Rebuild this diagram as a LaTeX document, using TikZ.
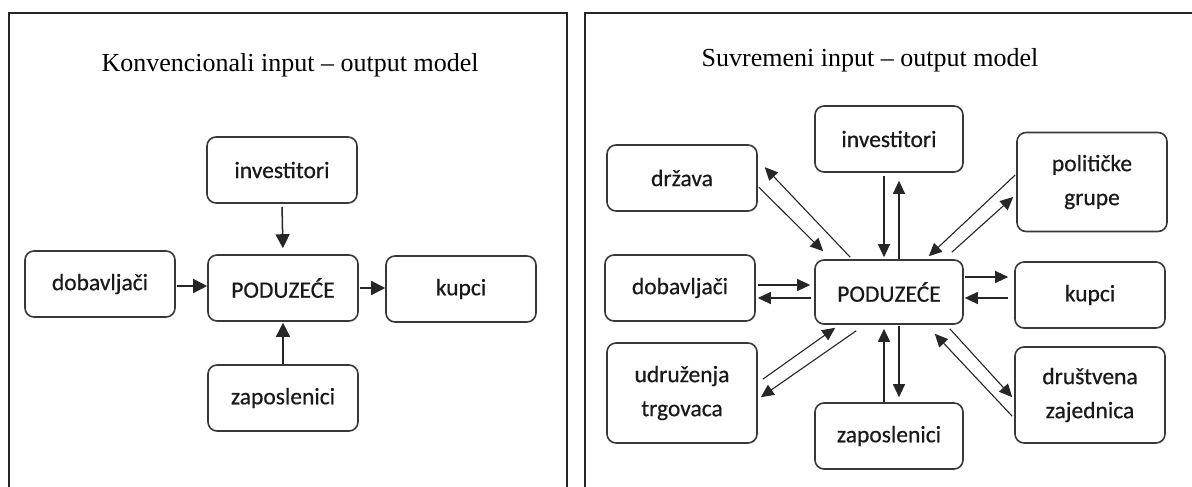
\documentclass[tikz,border=0pt]{standalone}
\usepackage{fontspec}
\setmainfont{Liberation Serif}
\newfontfamily\boxfont[FakeBold=0.5]{Carlito}
\usetikzlibrary{arrows.meta,calc}
\begin{document}
\begin{tikzpicture}[x=1pt,y=-1pt,
  ebox/.style={draw=black!78, line width=1.6pt, rounded corners=9pt, minimum width=150pt, minimum height=66pt, inner sep=0pt, font=\boxfont\fontsize{23.5}{34}\selectfont, align=center, text=black!90},
  arr/.style={draw=black!85, line width=1.1pt, -{Triangle[length=13pt,width=12pt]}},
  arrL/.style={draw=black!85, line width=1.5pt, -{Triangle[length=14pt,width=14pt]}},
  frm/.style={draw=black!85, line width=2pt},
  ttl/.style={font=\fontsize{26}{30}\selectfont, inner sep=0pt}]
\useasboundingbox (0,0) rectangle (1192,487);
\fill[white] (0,0) rectangle (1192,487);
% frames
\draw[frm] (9,492) -- (9,13) -- (567,13) -- (567,492);
\draw[frm] (585,492) -- (585,13) -- (1196,13);
% left panel
\node[ttl] (Lt) at (290,65) {Konvencionali input – output model};
\node[ebox] (Linv) at (282,170) {investitori};
\node[ebox] (Ldob) at (100,284) {dobavljači};
\node[ebox] (Lpod) at (283,288) {PODUZEĆE};
\node[ebox] (Lkup) at (461,289) {kupci};
\node[ebox] (Lzap) at (283,398) {zaposlenici};
\draw[arrL, shorten >=6pt, shorten <=3pt] (Linv.south) -- (Lpod.north);
\draw[arrL, shorten <=1pt] (Ldob.east |- 0,286) -- (Lpod.west |- 0,286);
\draw[arrL, shorten <=1pt] (Lpod.east |- 0,288) -- (Lkup.west |- 0,288);
\draw[arrL, shorten >=1pt] (Lzap.north) -- (Lpod.south);
% right panel
\node[ttl] (Rt) at (870,60) {Suvremeni input – output model};
\node[ebox, minimum width=148pt] (Rinv) at (889,139) {investitori};
\node[ebox] (Rdrz) at (682,178) {država};
\node[ebox, minimum height=99pt] (Rpol) at (1092,182) {političke\\grupe};
\node[ebox] (Rdob) at (680,288) {dobavljači};
\node[ebox, minimum width=148pt, minimum height=64pt] (Rpod) at (889,292) {PODUZEĆE};
\node[ebox] (Rkup) at (1090,295) {kupci};
\node[ebox, minimum height=100pt] (Rudr) at (682,393) {udruženja\\trgovaca};
\node[ebox, minimum width=148pt] (Rzap) at (889,436) {zaposlenici};
\node[ebox, minimum height=96pt] (Rdru) at (1090,395) {društvena\\zajednica};
% vertical pairs
\draw[arr, shorten <=3pt, shorten >=2pt] (Rinv.south -| 884,0) -- (Rpod.north -| 884,0);
\draw[arr, shorten >=8pt] (Rpod.north -| 899,0) -- (Rinv.south -| 899,0);
\draw[arr, shorten >=4pt] (Rzap.north -| 884,0) -- (Rpod.south -| 884,0);
\draw[arr, shorten >=5pt, shorten <=1pt] (Rpod.south -| 899,0) -- (Rzap.north -| 899,0);
% horizontal pairs
\draw[arr, shorten <=2pt, shorten >=4pt] (Rdob.east |- 0,285) -- (Rpod.west |- 0,285);
\draw[arr, shorten >=2pt, shorten <=3pt] (Rpod.west |- 0,298) -- (Rdob.east |- 0,298);
\draw[arr, shorten <=1pt, shorten >=6pt] (Rpod.east |- 0,277) -- (Rkup.west |- 0,277);
\draw[arr, shorten >=1pt, shorten <=6pt] (Rkup.west |- 0,298) -- (Rpod.east |- 0,298);
% diagonal pairs
\draw[arr] ($(Rpod.north west)+(36,-2)$) -- ($(Rdrz.north east)+(7,23)$);
\draw[arr] ($(Rdrz.north east)+(1,43)$) -- ($(Rpod.north west)+(9,-8)$);
\draw[arr] ($(Rpol.west)+(-1,-7)$) -- ($(Rpod.north east)+(-35,-3)$);
\draw[arr] ($(Rpod.north east)+(-12,-7)$) -- ($(Rpol.west)+(-3,15)$);
\draw[arr] ($(Rudr.north east)+(5,37)$) -- ($(Rpod.south west)+(21,3)$);
\draw[arr] ($(Rpod.south west)+(42,6)$) -- ($(Rudr.north east)+(3,55)$);
\draw[arr] ($(Rdru.north west)+(-2,70)$) -- ($(Rpod.south east)+(-29,9)$);
\draw[arr] ($(Rpod.south east)+(-14,4)$) -- ($(Rdru.north west)+(-2,51)$);
\end{tikzpicture}
\end{document}
